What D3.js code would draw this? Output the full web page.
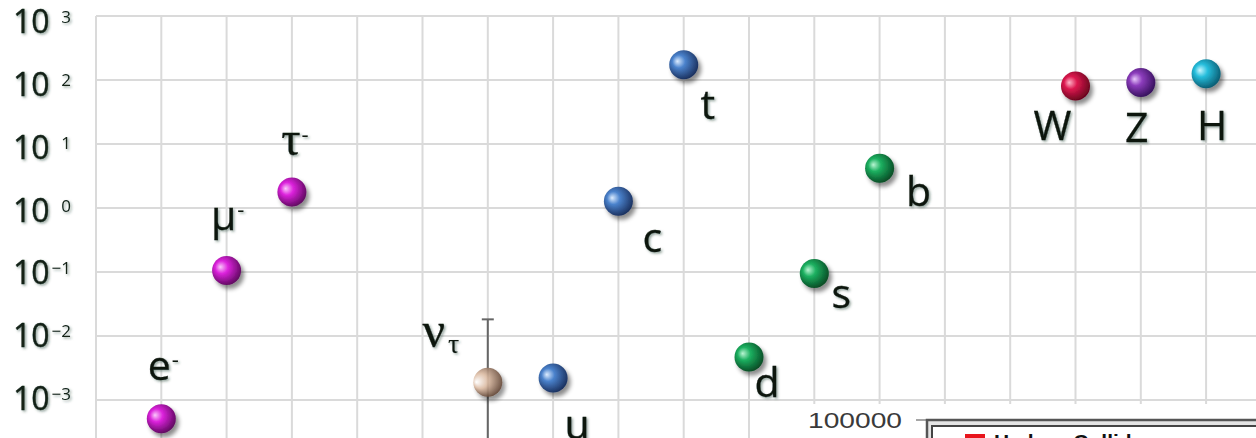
<!DOCTYPE html>
<html>
<head>
<meta charset="utf-8">
<script src="https://cdn.jsdelivr.net/npm/d3@7"></script>
<style>
  body { margin: 0; background: #fff; }
  svg { display: block; }
</style>
</head>
<body>
<svg id="chart" width="1256" height="438"></svg>
<script>
// slot along the x axis (blank = empty column)
var slots = ["", "e", "mu", "tau", "", "", "nutau", "u", "c", "t", "d", "s", "b", "", "", "W", "Z", "H", ""];

// particles and their masses in GeV
var particles = ["e", "mu", "tau", "nutau", "u", "c", "t", "d", "s", "b", "W", "Z", "H"];
var masses    = [0.000511, 0.1057, 1.777, 0.0019, 0.0022, 1.27, 173, 0.0047, 0.095, 4.18, 80.4, 91.19, 125];
var families  = ["lepton", "lepton", "lepton", "neutrino", "up", "up", "up", "down", "down", "down", "W", "Z", "H"];

// upper limit on the tau neutrino mass (GeV)
var nuLimit = 0.0182;

var tickExps = [3, 2, 1, 0, -1, -2, -3];

// label look and placement, relative to each ball
var labels = {
    e:     {txt: "e", sup: "-", dx: -2,  dy: -39, font: "Open Sans", size: 41},
    mu:    {txt: "μ", sup: "-", dx: -3,  dy: -40, font: "Open Sans", size: 41},
    tau:   {txt: "τ", sup: "-", dx: -1,  dy: -37, font: "Liberation Serif", size: 48},
    nutau: {txt: "ν", sub: "τ", dx: -54, dy: -35, font: "Liberation Serif", size: 50},
    u:     {txt: "u", dx: 24, dy: 61, font: "Open Sans", size: 41},
    c:     {txt: "c", dx: 34, dy: 51, font: "Open Sans", size: 41},
    t:     {txt: "t", dx: 24, dy: 54, font: "Open Sans", size: 41},
    d:     {txt: "d", dx: 18, dy: 40, font: "Open Sans", size: 41},
    s:     {txt: "s", dx: 27, dy: 35, font: "Open Sans", size: 41},
    b:     {txt: "b", dx: 39, dy: 38, font: "Open Sans", size: 41},
    W:     {txt: "W", dx: -23, dy: 54, font: "Open Sans", size: 41},
    Z:     {txt: "Z", dx: -4, dy: 59, font: "Open Sans", size: 41},
    H:     {txt: "H", dx: 6, dy: 66, font: "Open Sans", size: 41}
};

var ballColors = {
    lepton:   ["#fbc8fb", "#dc22dc", "#5e085e"],
    up:       ["#dcecff", "#4a82cc", "#1a2f5c"],
    down:     ["#b8f5d2", "#1cb060", "#074a24"],
    W:        ["#ffb4c8", "#dc184e", "#66041c"],
    Z:        ["#e8c8fb", "#8c3cbc", "#34105a"],
    H:        ["#c8f6ff", "#26bedc", "#0a5a70"],
    neutrino: ["#ffffff", "#dcbca4", "#5e4232"]
};

var svg = d3.select("#chart");
var W = 1256, Hh = 438;

var x = d3.scaleLinear().domain([0, 1]).range([96, 161.3]);
var y = d3.scaleLog().domain([1e-3, 1e3]).range([400, 16]);
var labelY = d3.scaleLinear().domain([-3, 3]).range([410, 33]);

var defs = svg.append("defs");

var shadow = defs.append("filter").attr("id", "ballShadow")
    .attr("x", "-50%").attr("y", "-50%").attr("width", "200%").attr("height", "200%");
shadow.append("feDropShadow").attr("dx", 3).attr("dy", 4)
    .attr("stdDeviation", 2.2).attr("flood-color", "#000").attr("flood-opacity", 0.45);

var txtShadow = defs.append("filter").attr("id", "txtShadow")
    .attr("x", "-20%").attr("y", "-20%").attr("width", "140%").attr("height", "140%");
txtShadow.append("feDropShadow").attr("dx", 1.5).attr("dy", 1.5)
    .attr("stdDeviation", 1).attr("flood-color", "#2a4a3a").attr("flood-opacity", 0.5);

for (var key in ballColors) {
    var c = ballColors[key];
    var g = defs.append("radialGradient").attr("id", "grad-" + key)
        .attr("cx", "42%").attr("cy", "40%").attr("r", "62%")
        .attr("fx", key == "neutrino" ? "10%" : "28%").attr("fy", key == "neutrino" ? "50%" : "38%");
    g.append("stop").attr("offset", "0%").attr("stop-color", c[0]);
    g.append("stop").attr("offset", key == "neutrino" ? "42%" : "36%").attr("stop-color", c[1]);
    g.append("stop").attr("offset", "100%").attr("stop-color", c[2]);
}

// grid
var grid = svg.append("g");
var gridExps = d3.range(3, -5, -1);
grid.selectAll("line.h")
    .data(gridExps)
    .enter()
    .append("line")
    .attr("x1", x(0)).attr("x2", W)
    .attr("y1", function(d){ return y(Math.pow(10, d)); })
    .attr("y2", function(d){ return y(Math.pow(10, d)); })
    .style("stroke", "#dadada").style("stroke-width", 2);

grid.selectAll("line.v")
    .data(d3.range(0, slots.length))
    .enter()
    .append("line")
    .attr("x1", function(d){ return x(d); }).attr("x2", function(d){ return x(d); })
    .attr("y1", y(1e3)).attr("y2", Hh)
    .style("stroke", "#dadada").style("stroke-width", 2);

// y tick labels
var ticks = svg.append("g").attr("filter", "url(#txtShadow)");
tickExps.forEach(function(e) {
    var base = labelY(e);
    ticks.append("text")
        .attr("x", 13).attr("y", base)
        .style("font-family", "Open Sans").style("font-size", "32px")
        .style("fill", "#122016").style("stroke", "#122016").style("stroke-width", 0.4)
        .text("10");
    ticks.append("text")
        .attr("x", 71).attr("y", base - 10)
        .attr("text-anchor", "end")
        .style("font-family", "Open Sans").style("font-size", "17px")
        .style("fill", "#122016")
        .text(e < 0 ? "\u2212" + (-e) : "" + e);
});

// error bar for the tau neutrino
var nuX = x(slots.indexOf("nutau"));
svg.append("line")
    .attr("x1", nuX).attr("x2", nuX)
    .attr("y1", y(nuLimit)).attr("y2", Hh)
    .style("stroke", "#666").style("stroke-width", 2);
svg.append("line")
    .attr("x1", nuX - 6).attr("x2", nuX + 6)
    .attr("y1", y(nuLimit)).attr("y2", y(nuLimit))
    .style("stroke", "#666").style("stroke-width", 2);

// balls
svg.append("g")
    .selectAll("circle")
    .data(particles)
    .enter()
    .append("circle")
    .attr("cx", function(d){ return x(slots.indexOf(d)); })
    .attr("cy", function(d, i){ return y(masses[i]); })
    .attr("r", 14.5)
    .attr("filter", "url(#ballShadow)")
    .style("fill", function(d, i){ return "url(#grad-" + families[i] + ")"; })
    .style("opacity", function(d, i){ return families[i] == "neutrino" ? 0.92 : 1; });

// particle labels
var lab = svg.append("g").attr("filter", "url(#txtShadow)");
particles.forEach(function(p, i) {
    var L = labels[p];
    var cx = x(slots.indexOf(p)) + L.dx;
    var cy = y(masses[i]) + L.dy;
    var t = lab.append("text")
        .attr("x", cx).attr("y", cy)
        .attr("text-anchor", "middle")
        .style("font-family", L.font).style("font-size", L.size + "px")
        .style("fill", "#0e1510").style("stroke", "#0e1510").style("stroke-width", 0.3)
        .text(L.txt);
    var half = t.node().getComputedTextLength() / 2;
    if (L.sup) {
        lab.append("text")
            .attr("x", cx + half + 1).attr("y", cy - 13)
            .style("font-family", "Open Sans").style("font-size", "22px")
            .style("fill", "#0e1510")
            .text(L.sup);
    }
    if (L.sub) {
        lab.append("text")
            .attr("x", cx + half + 3).attr("y", cy + 6)
            .style("font-family", L.font).style("font-size", "28px")
            .style("fill", "#0e1510")
            .text(L.sub);
    }
});

// pasted corner of another chart (bottom right)
svg.append("rect")
    .attr("x", 792).attr("y", 404).attr("width", W - 792).attr("height", Hh - 404)
    .style("fill", "#fff");
svg.append("text")
    .attr("x", 808).attr("y", 428)
    .attr("textLength", 94).attr("lengthAdjust", "spacingAndGlyphs")
    .style("font-family", "Liberation Sans").style("font-size", "22px")
    .style("fill", "#3a3a3a")
    .text("100000");
svg.append("line")
    .attr("x1", 916).attr("x2", 928).attr("y1", 420).attr("y2", 420)
    .style("stroke", "#888").style("stroke-width", 1.5);
svg.append("rect")
    .attr("x", 927).attr("y", 420).attr("width", 400).attr("height", 60)
    .style("fill", "#e4e4e4").style("stroke", "#555").style("stroke-width", 2.5);
svg.append("rect")
    .attr("x", 932).attr("y", 426).attr("width", 400).attr("height", 60)
    .style("fill", "#fff").style("stroke", "#444").style("stroke-width", 2);
svg.append("rect")
    .attr("x", 965).attr("y", 434).attr("width", 20).attr("height", 20)
    .style("fill", "#e8141c");
svg.append("text")
    .attr("x", 994).attr("y", 449)
    .style("font-family", "Liberation Sans").style("font-weight", "bold").style("font-size", "21px")
    .style("fill", "#111")
    .text("Hadron Colliders");
</script>
</body>
</html>
